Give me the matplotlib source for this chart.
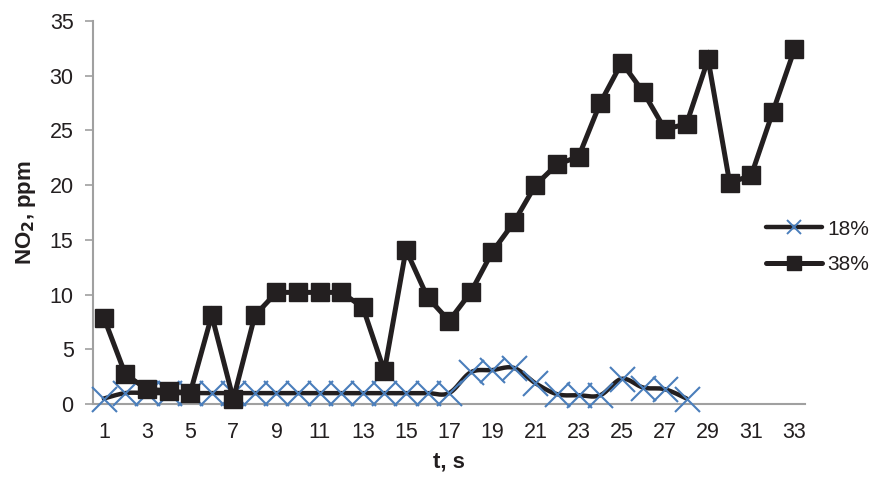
import numpy as np
import matplotlib
matplotlib.use("Agg")
import matplotlib.pyplot as plt
from matplotlib.lines import Line2D

plt.rcParams['font.family'] = ['Liberation Sans', 'DejaVu Sans']

# Time points (s)
t = list(range(1, 34))

# NO2 concentration, ppm
no2_18 = [0.5, 1.0, 1.0, 1.0, 1.0, 1.0, 1.0, 1.0, 1.0, 1.0, 1.0, 1.0, 1.0, 1.0,
          1.0, 1.0, 1.0, 2.9, 3.1, 3.3, 1.9, 0.9, 0.8, 0.8, 2.3, 1.5, 1.35, 0.5]
no2_38 = [7.9, 2.7, 1.35, 1.2, 1.0, 8.1, 0.45, 8.1, 10.2, 10.2, 10.2, 10.2, 8.85,
          3.0, 14.1, 9.75, 7.6, 10.2, 13.9, 16.6, 20.0, 21.9, 22.6, 27.5, 31.2,
          28.5, 25.1, 25.6, 31.5, 20.2, 20.9, 26.7, 32.4]

series_labels = ['18%', '38%']
x_ticks = list(range(1, 34, 2))
y_ticks = list(range(0, 36, 5))

INK = '#231f20'
BLUE = '#4a7ebb'
GRID = '#a0a0a0'


def smooth(xs, ys, n=20):
    """Catmull-Rom style smoothing, as used for smoothed line charts."""
    xs = np.asarray(xs, float)
    ys = np.asarray(ys, float)
    px = np.concatenate([[xs[0]], xs, [xs[-1]]])
    py = np.concatenate([[ys[0]], ys, [ys[-1]]])
    ox, oy = [], []
    for i in range(1, len(px) - 2):
        p0 = np.array([px[i - 1], py[i - 1]])
        p1 = np.array([px[i], py[i]])
        p2 = np.array([px[i + 1], py[i + 1]])
        p3 = np.array([px[i + 2], py[i + 2]])
        c1 = p1 + (p2 - p0) / 6.0
        c2 = p2 - (p3 - p1) / 6.0
        s = np.linspace(0, 1, n, endpoint=(i == len(px) - 3))
        b = ((1 - s) ** 3)[:, None] * p1 + (3 * (1 - s) ** 2 * s)[:, None] * c1 \
            + (3 * (1 - s) * s ** 2)[:, None] * c2 + (s ** 3)[:, None] * p2
        ox.extend(b[:, 0])
        oy.extend(b[:, 1])
    return np.array(ox), np.array(oy)


fig = plt.figure(figsize=(8.76, 4.82), dpi=100)
ax = fig.add_axes([0.1062, 0.1618, 0.813, 0.7946])

t18 = t[:len(no2_18)]
sx, sy = smooth(t18, no2_18)
ax.plot(sx, sy, color=INK, lw=3.2, solid_capstyle='round', zorder=2,
        clip_on=False)
ax.plot(t18, no2_18, ls='none', marker='x', ms=18, mew=1.5, color=BLUE,
        zorder=3, clip_on=False)

ax.plot(t, no2_38, color=INK, lw=3.6, marker='s', ms=13, mfc=INK, mec=INK,
        solid_joinstyle='miter', zorder=4, clip_on=False)

ax.set_xlim(0.5, 33.5)
ax.set_ylim(0, 35)
ax.set_xticks(x_ticks)
ax.set_yticks(y_ticks)
ax.tick_params(axis='x', length=0, pad=13, labelsize=15.5, labelcolor=INK)
ax.tick_params(axis='y', length=6, width=1.2, color=GRID, pad=8, labelsize=15.5,
               labelcolor=INK)

for side in ('top', 'right'):
    ax.spines[side].set_visible(False)
for side in ('left', 'bottom'):
    ax.spines[side].set_color(GRID)
    ax.spines[side].set_linewidth(1.5)
ax.spines['bottom'].set_zorder(1)

ax.set_xlabel('t, s', fontsize=16, fontweight='bold', color=INK, labelpad=6)
ax.set_ylabel('NO$_\\mathbf{2}$, ppm', fontsize=16, fontweight='bold', color=INK,
              labelpad=8)

handles = [
    Line2D([], [], color=INK, lw=3.2, solid_capstyle='round', marker='x', ms=10,
           mew=1.4, mec=BLUE),
    Line2D([], [], color=INK, lw=3.6, solid_capstyle='round', marker='s', ms=10,
           mfc=INK, mec=INK),
]
leg = fig.legend(handles, series_labels, loc='center left',
                 bbox_to_anchor=(0.874, 0.4876), frameon=False, fontsize=15,
                 handlelength=2.7, handletextpad=0.25, labelspacing=0.8,
                 borderpad=0, borderaxespad=0, labelcolor=INK)

fig.savefig('out.png', dpi=100)
